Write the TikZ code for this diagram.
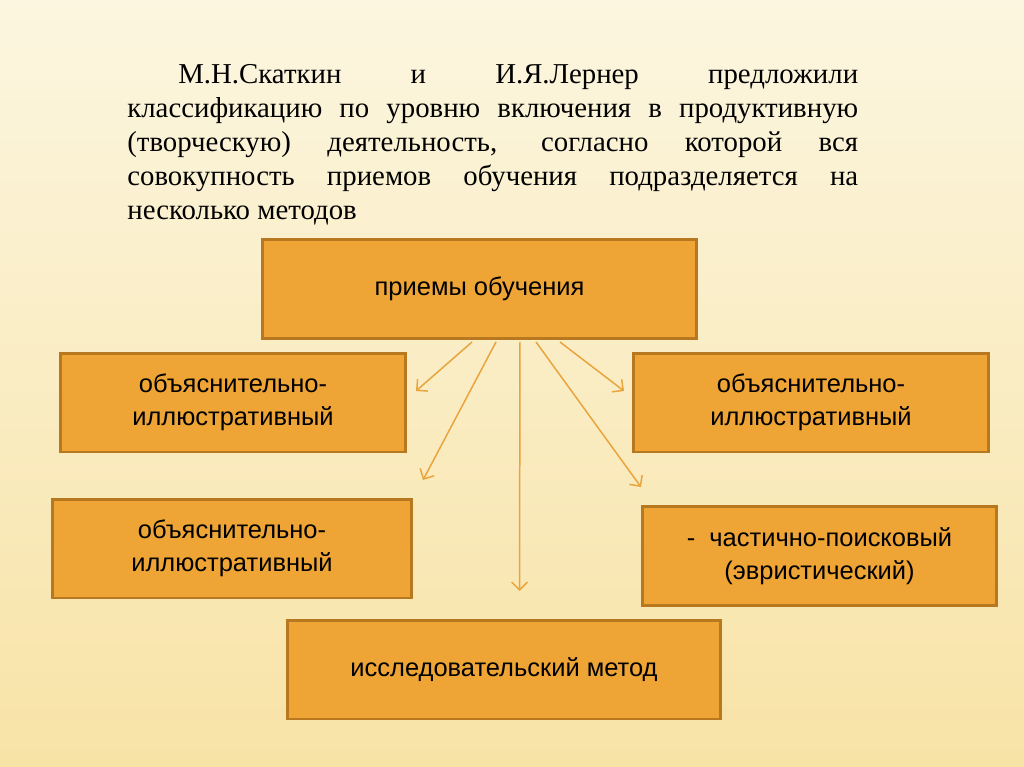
\documentclass[tikz,border=0pt]{standalone}
\usepackage{fontspec}
\setmainfont{Liberation Serif}
\newfontfamily\boxfont{Liberation Sans}
\usetikzlibrary{arrows.meta}

\definecolor{boxfill}{HTML}{EFA535}
\definecolor{boxline}{HTML}{B7781F}
\definecolor{arrowcol}{HTML}{E9A43E}
\definecolor{bgtop}{HTML}{FCF6E0}
\definecolor{bgbot}{HTML}{F8E3A6}

\tikzset{
  methodbox/.style={draw=boxline, fill=boxfill, line width=1.7pt,
    align=center, font=\boxfont\fontsize{14.5}{18.7}\selectfont,
    minimum height=1.98cm, inner sep=0pt},
  link/.style={arrowcol, line width=0.85pt, -{Straight Barb[length=4.5pt,width=9pt]}}
}

\begin{document}
\begin{tikzpicture}[x=0.02cm, y=-0.02cm]
  % background
  \shade[top color=bgtop, bottom color=bgbot] (0,0) rectangle (1024,767);
  \useasboundingbox (0,0) rectangle (1024,767);

  % intro text
  \node[anchor=north west, inner sep=0pt, text width=14.62cm, align=justify,
        font=\fontsize{16.4}{19.3}\selectfont] (intro) at (127,64)
    {\hspace*{1.02cm}М.Н.Скаткин и И.Я.Лернер предложили классификацию по уровню включения в продуктивную (творческую) деятельность, согласно которой вся совокупность приемов обучения подразделяется на несколько методов};

  % boxes
  \node[methodbox, minimum width=8.68cm] (top) at (479.5,289) {приемы обучения};
  \node[methodbox, minimum width=6.9cm] (left1) at (233,402.5) {объяснительно-\\иллюстративный};
  \node[methodbox, minimum width=7.1cm] (right1) at (811,402.5) {объяснительно-\\иллюстративный};
  \node[methodbox, minimum width=7.18cm] (left2) at (232,548.5) {объяснительно-\\иллюстративный};
  \node[methodbox, minimum width=7.08cm] (right2) at (819.5,556) {-\ \ частично-поисковый\\(эвристический)};
  \node[methodbox, minimum width=8.66cm] (bottom) at (504,669.5) {исследовательский метод};

  % arrow ends
  \coordinate (e1) at (416,391);
  \coordinate (e2) at (423,480);
  \coordinate (e3) at (519.5,591);
  \coordinate (e4) at (641,487);
  \coordinate (e5) at (624,391);

  % arrows
  \draw[link] ([xshift=-0.15cm,yshift=-0.04cm]top.south) -- (e1);
  \draw[link] ([xshift=0.33cm,yshift=-0.04cm]top.south) -- (e2);
  \draw[link] ([xshift=0.81cm,yshift=-0.04cm]top.south) -- (e3);
  \draw[link] ([xshift=1.13cm,yshift=-0.04cm]top.south) -- (e4);
  \draw[link] ([xshift=1.61cm,yshift=-0.04cm]top.south) -- (e5);
\end{tikzpicture}
\end{document}
